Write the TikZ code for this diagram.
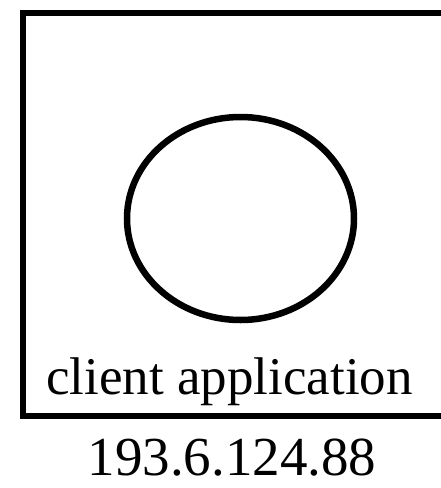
\documentclass[tikz,border=0pt]{standalone}
\usepackage{fontspec}
\setmainfont{Liberation Serif}
\usetikzlibrary{positioning,shapes.geometric}

\begin{document}
\begin{tikzpicture}[
    x=1pt, y=-1pt,
    frame/.style={draw, line width=6pt},
    proc/.style={draw, ellipse, line width=6.5pt, minimum width=227pt,
                 minimum height=203pt, inner sep=0pt},
    label/.style={inner sep=0pt, text depth=0pt},
  ]
  \useasboundingbox (0,0) rectangle (440,488);

  \draw[frame] (22.5,12.5) rectangle (470,416);
  \node[proc] (app) at (240.5,218.5) {};

  \node[label, font=\fontsize{53}{60}\selectfont, anchor=base west]
    (name) at (46,394) {client application};
  \node[label, font=\fontsize{55}{62}\selectfont, anchor=base]
    (addr) at (232,475) {193.6.124.88};

\end{tikzpicture}
\end{document}
